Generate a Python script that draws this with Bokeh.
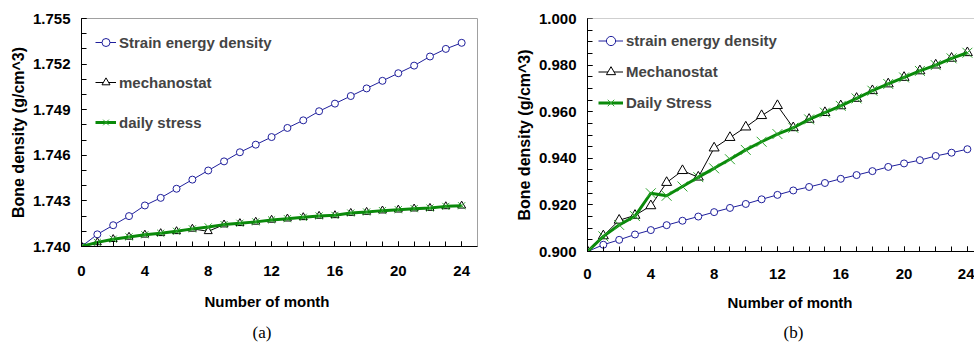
import numpy as np
from bokeh.plotting import figure
from bokeh.layouts import row, column
from bokeh.models import (FixedTicker, Range1d, Legend, LegendItem, Title, Span,
                          PrintfTickFormatter)
from bokeh.embed import file_html
from bokeh.resources import INLINE

# ---------------- data ----------------
months = list(range(25))

# panel (a)
sed_a = [1.7400, 1.7408, 1.7414, 1.7420, 1.7427, 1.7432, 1.7438, 1.7444, 1.7450,
         1.7456, 1.7462, 1.7467, 1.7472, 1.7478, 1.7483, 1.7489, 1.7494, 1.7499,
         1.7504, 1.7509, 1.7514, 1.7519, 1.7525, 1.7530, 1.7534]
mech_a = [1.7400, 1.74027, 1.74048, 1.74063, 1.74077, 1.74087, 1.74100, 1.74116,
          1.74100, 1.74144, 1.74153, 1.74162, 1.74175, 1.74183, 1.74192, 1.74201,
          1.74205, 1.74220, 1.74227, 1.74236, 1.74242, 1.74249, 1.74253, 1.74264,
          1.74268]
daily_a = [1.7400, 1.74027, 1.74048, 1.74063, 1.74077, 1.74087, 1.74100, 1.74116,
           1.74129, 1.74144, 1.74153, 1.74162, 1.74175, 1.74183, 1.74192, 1.74201,
           1.74205, 1.74220, 1.74227, 1.74236, 1.74242, 1.74249, 1.74253, 1.74264,
           1.74268]

# panel (b)
sed_b = [0.9000, 0.9029, 0.9050, 0.9073, 0.9092, 0.9113, 0.9132, 0.9150, 0.9169,
         0.9187, 0.9204, 0.9224, 0.9243, 0.9262, 0.9277, 0.9294, 0.9312, 0.9328,
         0.9345, 0.9363, 0.9378, 0.9392, 0.9410, 0.9424, 0.9439]
mech_b = [0.9000, 0.9067, 0.9134, 0.9155, 0.9196, 0.9296, 0.9347, 0.9319, 0.9444,
          0.9489, 0.9534, 0.9583, 0.9626, 0.9531, 0.9567, 0.9596, 0.9625, 0.9657,
          0.9690, 0.9719, 0.9747, 0.9775, 0.9800, 0.9829, 0.9853]
daily_b = [0.9000, 0.9065, 0.9114, 0.9152, 0.9250, 0.9239, 0.9279, 0.9319, 0.9357,
           0.9396, 0.9436, 0.9471, 0.9504, 0.9531, 0.9567, 0.9596, 0.9625, 0.9657,
           0.9690, 0.9719, 0.9747, 0.9775, 0.9800, 0.9829, 0.9853]

x_ticks = [0, 4, 8, 12, 16, 20, 24]
y_ticks_a = [1.740, 1.743, 1.746, 1.749, 1.752, 1.755]
y_ticks_b = [0.900, 0.920, 0.940, 0.960, 0.980, 1.000]

labels_a = ["Strain energy density", "mechanostat", "daily stress"]
labels_b = ["strain energy density", "Mechanostat", "Daily Stress"]
x_title = "Number of month"

FONT = "Liberation Sans"
SERIF = "Liberation Serif"
BLUE = "#1f1f9c"
GREEN_LINE = "#0a8a0a"
GREEN_MK = "#2fa52f"


def style_axes(p, xstandoff):
    for ax in (p.xaxis[0], p.yaxis[0]):
        ax.axis_line_color = "black"
        ax.axis_line_width = 1
        ax.major_tick_line_color = "black"
        ax.minor_tick_line_color = "black"
        ax.major_tick_in = 5
        ax.major_tick_out = 0
        ax.minor_tick_in = 5
        ax.minor_tick_out = 0
        ax.major_label_text_font = FONT
        ax.major_label_text_font_size = "15px"
        ax.major_label_text_font_style = "bold"
        ax.major_label_text_color = "black"
        ax.axis_label_text_font = FONT
        ax.axis_label_text_font_size = "16px"
        ax.axis_label_text_font_style = "bold"
        ax.axis_label_text_color = "black"
    p.xaxis[0].ticker = FixedTicker(ticks=x_ticks, minor_ticks=months)
    p.xaxis[0].major_label_standoff = xstandoff
    p.yaxis[0].major_label_standoff = 11
    p.yaxis[0].formatter = PrintfTickFormatter(format="%.3f")
    p.yaxis[0].axis_label = "Bone density (g/cm^3)"
    p.yaxis[0].axis_label_standoff = 3
    p.grid.visible = False


def add_titles(p, xoff, s1, tagoff, tag):
    p.add_layout(Title(text=x_title, align="left", offset=xoff, vertical_align="bottom",
                       text_font=FONT, text_font_size="15px", text_font_style="bold",
                       text_color="black", standoff=s1), "below")
    p.add_layout(Title(text=tag, align="left", offset=tagoff, vertical_align="middle",
                       text_font=SERIF, text_font_size="17px", text_font_style="normal",
                       text_color="black", standoff=0), "below")


def make_legend(items, margin, h, spacing, gw):
    return Legend(items=items, location="top_left", margin=margin, padding=0,
                  spacing=spacing, glyph_height=h, glyph_width=gw, label_height=h,
                  label_standoff=3, label_text_font=FONT, label_text_font_size="15px",
                  label_text_font_style="bold", background_fill_alpha=0,
                  border_line_color=None)


# ---------------- panel (a) ----------------
pa = figure(width=485, height=342, min_border_left=81, min_border_right=8,
            min_border_top=18, min_border_bottom=95,
            x_range=Range1d(0, 25), y_range=Range1d(1.740, 1.755),
            output_backend="svg", toolbar_location=None)
pa.outline_line_color = "#a0a0a0"
style_axes(pa, 19)
minor_a = list(np.round(np.arange(1.740, 1.7551, 0.001), 4))
pa.yaxis[0].ticker = FixedTicker(ticks=y_ticks_a, minor_ticks=minor_a)

la1 = pa.line(months, sed_a, line_color=BLUE, line_width=1)
sa1 = pa.scatter(months, sed_a, marker="circle", size=7, line_color=BLUE,
                 fill_color="white", line_width=1)
la2 = pa.line(months, mech_a, line_color="black", line_width=1)
sa2 = pa.scatter(months, mech_a, marker="triangle", size=8, line_color="black",
                 fill_color="white", line_width=1)
la3 = pa.line(months, daily_a, line_color=GREEN_LINE, line_width=3)
sa3 = pa.scatter(months, daily_a, marker="x", size=10, line_color=GREEN_MK, line_width=1)

pa.add_layout(make_legend([LegendItem(label=labels_a[0], renderers=[la1, sa1]),
                           LegendItem(label=labels_a[1], renderers=[la2, sa2]),
                           LegendItem(label=labels_a[2], renderers=[la3, sa3])],
                          14, 20, 20, 21))
add_titles(pa, 123, 24, 171, "(a)")

# ---------------- panel (b) ----------------
pb = figure(width=489, height=342, min_border_left=102, min_border_right=0,
            min_border_top=18, min_border_bottom=90,
            x_range=Range1d(0, 24.45), y_range=Range1d(0.900, 1.000),
            output_backend="svg", toolbar_location=None)
pb.outline_line_color = None
style_axes(pb, 17)
minor_b = list(np.round(np.arange(0.900, 1.0001, 0.005), 4))
pb.yaxis[0].ticker = FixedTicker(ticks=y_ticks_b, minor_ticks=minor_b)
pb.add_layout(Span(location=y_ticks_b[-1], dimension="width", line_color="#a0a0a0",
                   line_width=1))

lb1 = pb.line(months, sed_b, line_color=BLUE, line_width=1)
sb1 = pb.scatter(months, sed_b, marker="circle", size=7, line_color=BLUE,
                 fill_color="white", line_width=1)
lb2 = pb.line(months, mech_b, line_color="black", line_width=1)
sb2 = pb.scatter(months, mech_b, marker="triangle", size=10, line_color="black",
                 fill_color="white", line_width=1)
lb3 = pb.line(months, daily_b, line_color=GREEN_LINE, line_width=3)
sb3 = pb.scatter(months, daily_b, marker="x", size=14, line_color=GREEN_MK, line_width=1)

pb.add_layout(make_legend([LegendItem(label=labels_b[0], renderers=[lb1, sb1]),
                           LegendItem(label=labels_b[1], renderers=[lb2, sb2]),
                           LegendItem(label=labels_b[2], renderers=[lb3, sb3])],
                          11, 23, 8, 25))
add_titles(pb, 140, 21, 196, "(b)")

layout = row(column(pa), column(pb))
open("out.html", "w").write(file_html(layout, INLINE))
